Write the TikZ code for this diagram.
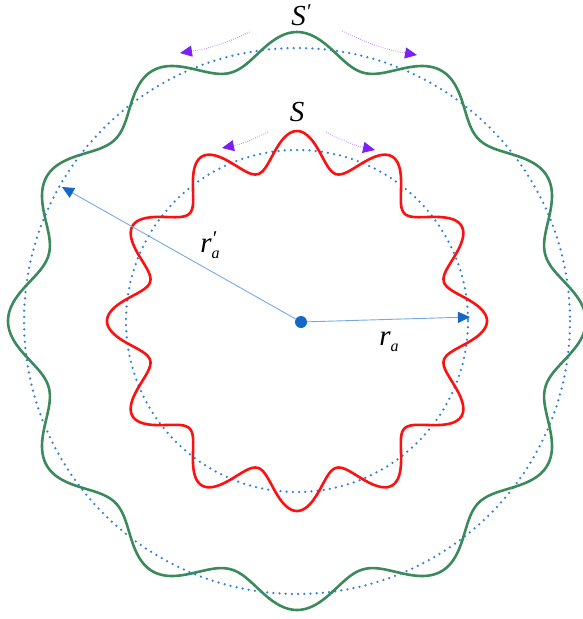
\documentclass[tikz,border=0pt]{standalone}
\usepackage{fontspec}
\newfontfamily\lblfont{Liberation Serif}
\usetikzlibrary{arrows.meta}
\definecolor{wred}{HTML}{FF1010}
\definecolor{wgreen}{HTML}{3A8A5C}
\definecolor{dotblue}{HTML}{2F7FD8}
\definecolor{lineblue}{HTML}{74AAE8}
\definecolor{tipblue}{HTML}{1467C8}
\definecolor{vio}{HTML}{7A22F5}
\definecolor{lvio}{HTML}{B98CF7}
\newcommand{\subA}{\raisebox{-0.45ex}{\fontsize{16}{16}\selectfont\itshape a}}
\newcommand{\primeB}{\raisebox{0.5ex}{\fontsize{21}{21}\selectfont\itshape \char"2032}}
\tikzset{
  dotcircle/.style={dotblue, line width=2.5pt, line cap=round, dash pattern=on 0pt off 6.2pt},
  redwave/.style={wred, line width=2.6pt, line join=round},
  greenwave/.style={wgreen, line width=2.6pt, line join=round},
  radius arrow/.style={lineblue, line width=0.9pt, -{Triangle[length=12pt,width=11pt,color=tipblue,fill=tipblue]}},
  spin arrow/.style={lvio, line width=0.9pt, dash pattern=on 0.8pt off 1.4pt, -{Triangle[length=12pt,width=11pt,color=vio,fill=vio,sep=0pt]}},
  lbl/.style={inner sep=0pt, font=\lblfont\fontsize{29}{32}\selectfont\itshape}
}
\begin{document}
\begin{tikzpicture}[x=1pt,y=-1pt]
\useasboundingbox (0,0) rectangle (583,619);
\coordinate (O) at (297,321);
\draw[dotcircle] (O) circle[radius=171];
\draw[dotcircle] (O) circle[radius=273];
\draw[redwave] plot[domain=0:360,samples=721,variable=\t] ({297+(171+19*cos(12*\t))*cos(\t)},{321+(171+19*cos(12*\t))*sin(\t)}) -- cycle;
\draw[greenwave] plot[domain=0:360,samples=721,variable=\t] ({297+(273+16*cos(12*\t))*cos(\t)},{321+(273+16*cos(12*\t))*sin(\t)}) -- cycle;
\node[fill=tipblue, circle, inner sep=0pt, minimum size=12pt] (c) at (301,322) {};
\coordinate (ra) at (470,317);
\coordinate (rap) at (62,187);
\draw[radius arrow] (c) -- (ra);
\draw[radius arrow] (c) -- (rap);
\node[lbl] (la) at (389,342) {r\subA};
\node[lbl] (lap) at (210,245) {r\makebox[0pt][l]{\primeB}\subA};
\node[lbl] (S) at (297,112) {S};
\node[lbl] (Sp) at (301,15) {S\primeB};
\coordinate (o1s) at (250,32);
\coordinate (o1e) at (180,53);
\coordinate (o2s) at (342,31);
\coordinate (o2e) at (417,55);
\coordinate (i1s) at (268,132);
\coordinate (i1e) at (222,148);
\coordinate (i2s) at (326,132);
\coordinate (i2e) at (375,150);
\draw[spin arrow] (o1s) to[bend left=8] (o1e);
\draw[spin arrow] (o2s) to[bend right=8] (o2e);
\draw[spin arrow] (i1s) to[bend left=8] (i1e);
\draw[spin arrow] (i2s) to[bend right=8] (i2e);
\end{tikzpicture}
\end{document}
